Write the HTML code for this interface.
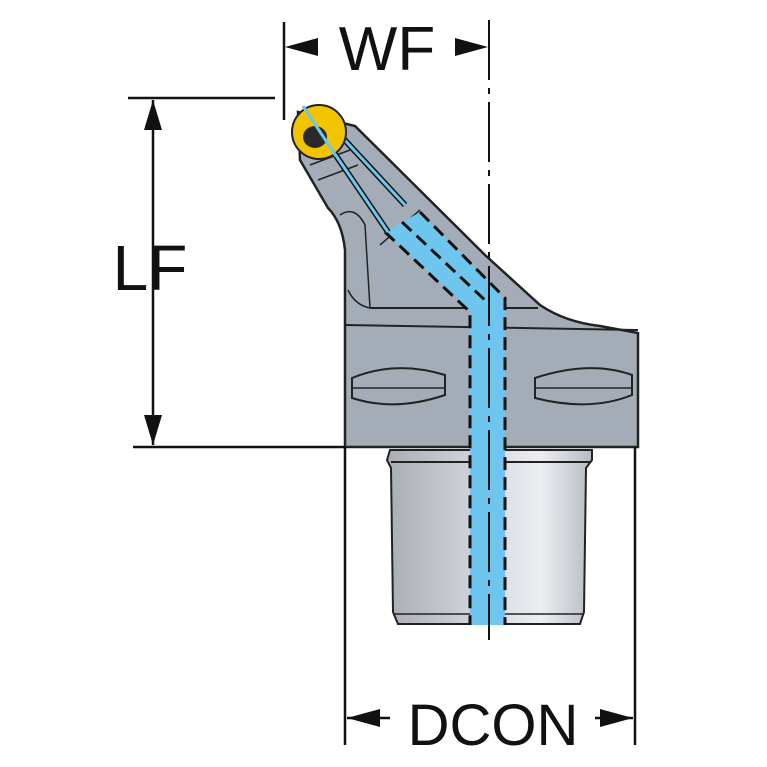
<!DOCTYPE html>
<html><head><style>html,body{margin:0;padding:0;background:#fff}svg{display:block}</style></head><body>
<svg width="767" height="767" viewBox="0 0 767 767" xmlns="http://www.w3.org/2000/svg" font-family="Liberation Sans, sans-serif">
<defs>
<linearGradient id="cyl" x1="0" x2="1" y1="0" y2="0">
<stop offset="0" stop-color="#a9adb4"/><stop offset="0.45" stop-color="#d3d6dc"/><stop offset="0.75" stop-color="#eceef2"/><stop offset="1" stop-color="#b6bac2"/>
</linearGradient>
</defs>
<!-- lower cylinder -->
<path d="M390 450 L592 450 L592 460 L586 468 L584 612 L580 624 L398 624 L393 612 L391 468 L387 460 Z" fill="url(#cyl)" stroke="#222" stroke-width="2"/>
<line x1="391" y1="462" x2="590" y2="462" stroke="#222" stroke-width="2"/>
<line x1="393" y1="614" x2="584" y2="614" stroke="#222" stroke-width="1.5"/>
<!-- arm -->
<path d="M298 112 L355 126 L485 255 L540 305 Q565 322 600 326 L638 333 L638 447 L345 447 L345 250 Q342 222 328 208 L300 160 Z" fill="#a4adb7" stroke="#222" stroke-width="2.5"/>
<line x1="345" y1="325" x2="638" y2="330" stroke="#222" stroke-width="2"/>
<path d="M370 308 L538 308" stroke="#222" stroke-width="2"/>
<path d="M370 308 Q355 305 348 290" fill="none" stroke="#222" stroke-width="1.5"/>
<path d="M340 215 Q355 205 365 225 L370 308" fill="none" stroke="#222" stroke-width="1.5"/>
<path d="M310 165 L350 150 M318 180 L358 165" stroke="#222" stroke-width="1.5"/>
<path d="M380 245 L420 210" stroke="#222" stroke-width="1.5"/>
<!-- slots -->
<path d="M352 378 Q395 360 445 375 L445 395 Q395 412 352 398 Z" fill="#a4adb7" stroke="#222" stroke-width="2"/>
<line x1="352" y1="388" x2="445" y2="388" stroke="#222" stroke-width="1.5"/>
<path d="M535 378 Q590 360 632 375 L632 395 Q590 412 535 398 Z" fill="#a4adb7" stroke="#222" stroke-width="2"/>
<line x1="535" y1="388" x2="632" y2="388" stroke="#222" stroke-width="1.5"/>
<!-- coolant -->
<path d="M385 232 L420 212 L498 290 L505 305 L505 625 L470 625 L470 310 Z" fill="#6ec6ee"/>
<path d="M385 232 L470 312 L470 625" fill="none" stroke="#111" stroke-width="3" stroke-dasharray="13 7"/>
<path d="M420 212 L505 298 L505 625" fill="none" stroke="#111" stroke-width="3" stroke-dasharray="13 7"/>
<path d="M402 222 L487 302" fill="none" stroke="#111" stroke-width="3" stroke-dasharray="13 7"/>
<path d="M305 110 L388 232 M315 108 L405 205" stroke="#111" stroke-width="6"/>
<path d="M305 110 L388 232 M315 108 L405 205" stroke="#6ec6ee" stroke-width="3"/>
<!-- insert -->
<circle cx="319" cy="132" r="27" fill="#f2c400" stroke="#222" stroke-width="2"/>
<ellipse cx="315" cy="137" rx="12" ry="11" fill="#2a2a2a"/>
<path d="M303 106 L336 156" stroke="#6ec6ee" stroke-width="3"/>
<!-- centerline -->
<line x1="489" y1="20" x2="489" y2="640" stroke="#111" stroke-width="2" stroke-dasharray="60 8 6 8"/>
<!-- dimension lines -->
<g stroke="#111" stroke-width="2.5">
<line x1="284" y1="22" x2="284" y2="120"/>
<line x1="128" y1="98" x2="275" y2="98"/>
<line x1="133" y1="447" x2="345" y2="447"/>
<line x1="153" y1="100" x2="153" y2="445"/>
<line x1="345" y1="447" x2="345" y2="745"/>
<line x1="635" y1="447" x2="635" y2="745"/>
<line x1="347" y1="718" x2="390" y2="718"/>
<line x1="595" y1="718" x2="633" y2="718"/>
</g>
<g fill="#111">
<polygon points="285,47 318,38 318,56"/>
<polygon points="488,47 455,38 455,56"/>
<polygon points="153,100 144,130 162,130"/>
<polygon points="153,445 144,415 162,415"/>
<polygon points="347,718 380,709 380,727"/>
<polygon points="633,718 600,709 600,727"/>
</g>
<text x="387" y="70" font-size="62" text-anchor="middle" fill="#111">WF</text>
<text x="150" y="290" font-size="64" text-anchor="middle" fill="#111">LF</text>
<text x="493" y="745" font-size="58" text-anchor="middle" fill="#111">DCON</text>
</svg>
</body></html>
